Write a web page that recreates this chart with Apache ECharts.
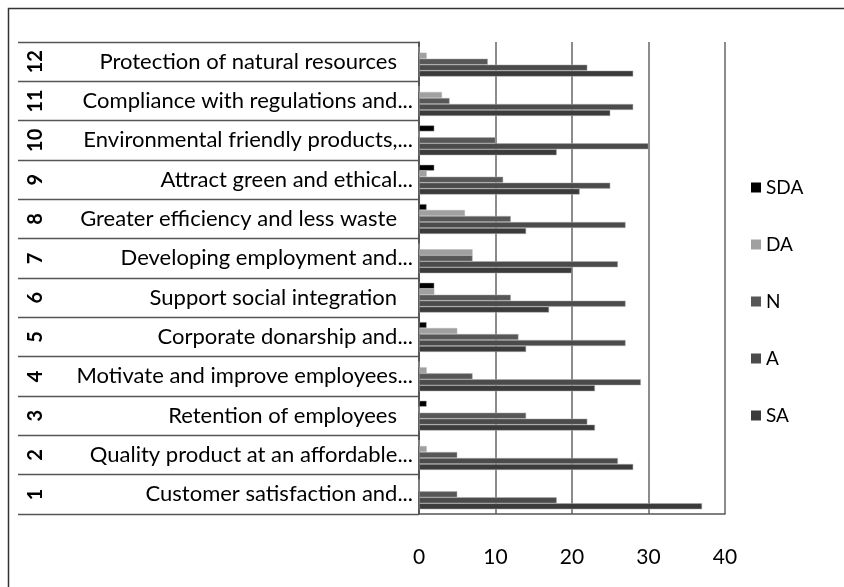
<!DOCTYPE html>
<html>
<head>
<meta charset="utf-8">
<script src="https://cdn.jsdelivr.net/npm/echarts@6/dist/echarts.min.js"></script>
<style>
  html, body { margin: 0; padding: 0; background: #fff; }
  #chart { width: 844px; height: 587px; }
</style>
</head>
<body>
<div id="chart"></div>
<script>
// Item numbers (bottom to top) and their statement texts
const itemNumbers = ['1', '2', '3', '4', '5', '6', '7', '8', '9', '10', '11', '12'];
const itemLabels = [
  'Customer satisfaction and...',
  'Quality product at an affordable...',
  'Retention of employees',
  'Motivate and improve employees...',
  'Corporate donarship and...',
  'Support social integration',
  'Developing employment and...',
  'Greater efficiency and less waste',
  'Attract green and ethical...',
  'Environmental friendly products,...',
  'Compliance with regulations and...',
  'Protection of natural resources'
];

// Response counts per item, one array per answer level
const seriesNames = ['SDA', 'DA', 'N', 'A', 'SA'];
const sdaValues = [0, 0, 1, 0, 1, 2, 0, 1, 2, 2, 0, 0];
const daValues  = [0, 1, 0, 1, 5, 2, 7, 6, 1, 0, 3, 1];
const nValues   = [5, 5, 14, 7, 13, 12, 7, 12, 11, 10, 4, 9];
const aValues   = [18, 26, 22, 29, 27, 27, 26, 27, 25, 30, 28, 22];
const saValues  = [37, 28, 23, 23, 14, 17, 20, 14, 21, 18, 25, 28];

// Value axis ticks
const xMin = 0, xMax = 40, xStep = 10;

const FONT = "Lato, 'Open Sans', sans-serif";
const colors = ['#000000', '#a0a0a0', '#575757', '#4b4b4b', '#3b3b3b'];
const allValues = [sdaValues, daValues, nValues, aValues, saValues];

const chart = echarts.init(document.getElementById('chart'), null, { renderer: 'canvas' });

const option = {
  backgroundColor: '#ffffff',
  animation: false,
  textStyle: { fontFamily: FONT },
  grid: { left: 419, right: 119, top: 42, bottom: 73, containLabel: false },
  legend: {
    orient: 'vertical',
    left: 746,
    top: 173,
    itemWidth: 10,
    itemHeight: 10,
    itemGap: 38,
    icon: 'rect',
    itemStyle: { borderWidth: 0 },
    textStyle: { fontFamily: FONT, fontSize: 19, color: '#000' },
    data: seriesNames
  },
  xAxis: {
    type: 'value',
    min: xMin,
    max: xMax,
    interval: xStep,
    axisLine: { show: true, lineStyle: { color: '#555', width: 1.5 } },
    axisTick: { show: false },
    splitLine: { show: true, lineStyle: { color: '#666', width: 1.5 } },
    axisLabel: { margin: 33, fontSize: 21, color: '#000', fontFamily: FONT }
  },
  yAxis: [
    {
      type: 'category',
      data: itemLabels,
      axisLine: { show: true, lineStyle: { color: '#444', width: 1.5 } },
      axisTick: { show: true, length: 401, interval: 0, lineStyle: { color: '#555', width: 1.3 } },
      splitLine: { show: false },
      axisLabel: {
        interval: 0,
        margin: 6,
        color: '#000',
        fontFamily: FONT,
        fontSize: 22,
        formatter: function (v) {
          return v.endsWith('...') ? '{t|' + v + '}' : '{f|' + v + '}';
        },
        rich: {
          t: { fontFamily: FONT, fontSize: 22, color: '#000' },
          f: { fontFamily: FONT, fontSize: 22, color: '#000', padding: [0, 16, 0, 0] }
        }
      }
    },
    {
      type: 'category',
      data: itemNumbers,
      position: 'left',
      axisLine: { show: false },
      axisTick: { show: false },
      splitLine: { show: false },
      axisLabel: {
        interval: 0,
        rotate: 90,
        margin: 373,
        color: '#000',
        fontFamily: FONT,
        fontSize: 20,
        fontWeight: 'bold'
      }
    }
  ],
  series: seriesNames.map(function (name, i) {
    return {
      name: name,
      type: 'bar',
      yAxisIndex: 0,
      data: allValues[i],
      barGap: '0%',
      barCategoryGap: '24%',
      itemStyle: { color: colors[i], borderColor: '#b0b0b0', borderWidth: 0.5 }
    };
  }),
  graphic: [
    {
      type: 'polyline',
      silent: true,
      shape: { points: [[8.5, 587], [8.5, 8.5], [844, 8.5]] },
      style: { stroke: '#333', lineWidth: 1.5, fill: null }
    }
  ]
};

chart.setOption(option);
</script>
</body>
</html>
